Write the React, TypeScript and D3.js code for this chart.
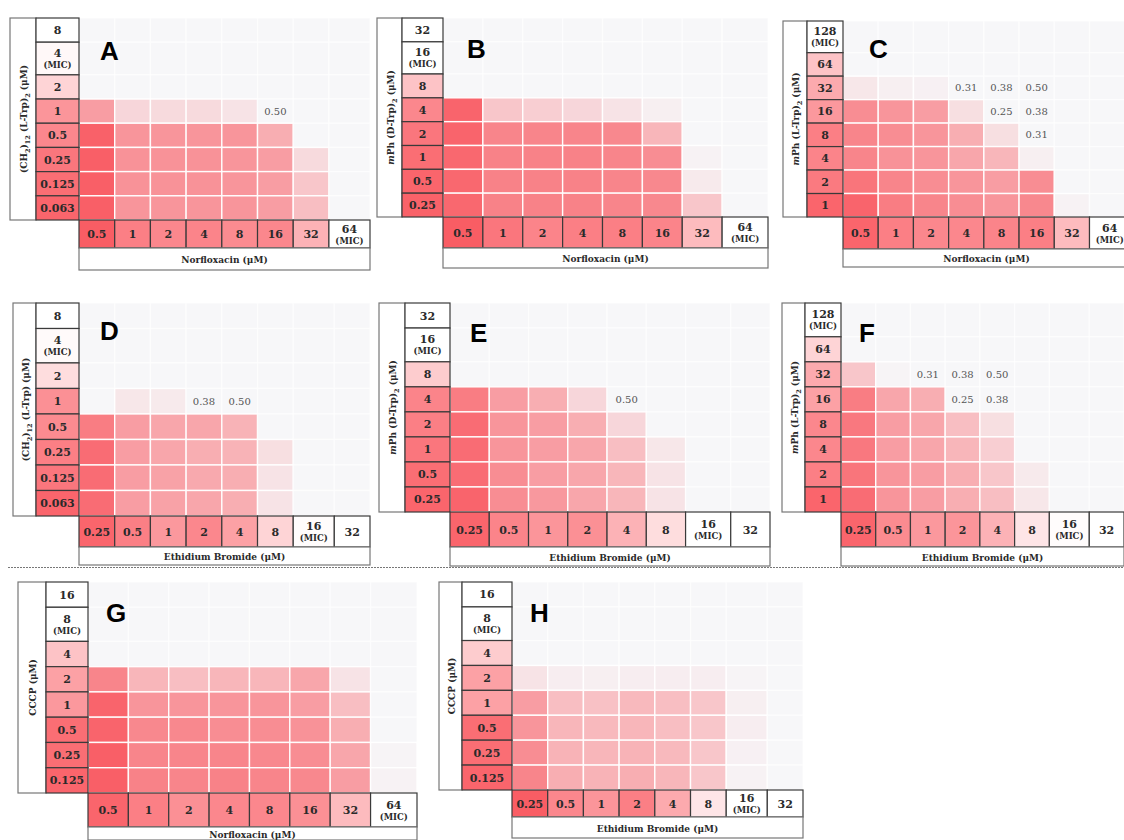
import React from 'react';
import * as d3 from 'd3';

// ---------- data ----------
const norfloxacinCols = ['0.5', '1', '2', '4', '8', '16', '32', '64 (MIC)'];
const ethidiumCols = ['0.25', '0.5', '1', '2', '4', '8', '16 (MIC)', '32'];

const rowsA = ['8', '4 (MIC)', '2', '1', '0.5', '0.25', '0.125', '0.063'];
const rowsB = ['32', '16 (MIC)', '8', '4', '2', '1', '0.5', '0.25'];
const rowsC = ['128 (MIC)', '64', '32', '16', '8', '4', '2', '1'];
const rowsG = ['16', '8 (MIC)', '4', '2', '1', '0.5', '0.25', '0.125'];

const rowShadeA = [0, 0.04, 0.25, 0.62, 0.7, 0.8, 0.85, 0.9];
const colShadeA = [0.95, 0.75, 0.7, 0.72, 0.68, 0.7, 0.45, 0];
const gridA = [
  [0, 0, 0, 0, 0, 0, 0, 0],
  [0, 0, 0, 0, 0, 0, 0, 0],
  [0, 0, 0, 0, 0, 0, 0, 0],
  [0.55, 0.2, 0.18, 0.18, 0.12, 0, 0, 0],
  [0.92, 0.6, 0.6, 0.6, 0.6, 0.45, 0, 0],
  [0.93, 0.62, 0.62, 0.62, 0.6, 0.55, 0.18, 0],
  [0.93, 0.62, 0.62, 0.62, 0.6, 0.55, 0.3, 0],
  [0.93, 0.6, 0.6, 0.6, 0.6, 0.55, 0.35, 0],
];
const notesA = [{ row: '1', col: '16', text: '0.50' }];

const rowShadeB = [0, 0, 0.35, 0.7, 0.8, 0.85, 0.9, 0.92];
const colShadeB = [0.95, 0.8, 0.72, 0.75, 0.75, 0.72, 0.4, 0];
const gridB = [
  [0, 0, 0, 0, 0, 0, 0, 0],
  [0, 0, 0, 0, 0, 0, 0, 0],
  [0, 0, 0, 0, 0, 0, 0, 0],
  [0.9, 0.3, 0.25, 0.2, 0.12, 0.05, 0, 0],
  [0.9, 0.7, 0.7, 0.7, 0.68, 0.4, 0, 0],
  [0.88, 0.72, 0.72, 0.72, 0.7, 0.65, 0.03, 0],
  [0.88, 0.72, 0.72, 0.72, 0.7, 0.68, 0.08, 0],
  [0.88, 0.72, 0.72, 0.72, 0.7, 0.68, 0.3, 0],
];
const notesB: { row: string; col: string; text: string }[] = [];

const rowShadeC = [0, 0.35, 0.5, 0.6, 0.75, 0.72, 0.78, 0.9];
const colShadeC = [0.9, 0.75, 0.7, 0.7, 0.72, 0.75, 0.4, 0];
const gridC = [
  [0, 0, 0, 0, 0, 0, 0, 0],
  [0, 0, 0, 0, 0, 0, 0, 0],
  [0.1, 0.05, 0.04, 0, 0, 0, 0, 0],
  [0.65, 0.6, 0.55, 0.15, 0, 0, 0, 0],
  [0.7, 0.65, 0.6, 0.45, 0.15, 0, 0, 0],
  [0.7, 0.62, 0.6, 0.5, 0.4, 0.05, 0, 0],
  [0.8, 0.7, 0.65, 0.6, 0.55, 0.65, 0, 0],
  [0.9, 0.75, 0.7, 0.65, 0.6, 0.68, 0.03, 0],
];
const notesC = [
  { row: '32', col: '4', text: '0.31' },
  { row: '32', col: '8', text: '0.38' },
  { row: '32', col: '16', text: '0.50' },
  { row: '16', col: '8', text: '0.25' },
  { row: '16', col: '16', text: '0.38' },
  { row: '8', col: '16', text: '0.31' },
];

const rowShadeD = [0, 0.03, 0.2, 0.65, 0.68, 0.75, 0.8, 0.9];
const colShadeD = [0.9, 0.75, 0.6, 0.7, 0.55, 0.25, 0.02, 0];
const gridD = [
  [0, 0, 0, 0, 0, 0, 0, 0],
  [0, 0, 0, 0, 0, 0, 0, 0],
  [0, 0, 0, 0, 0, 0, 0, 0],
  [0, 0.1, 0.08, 0, 0, 0, 0, 0],
  [0.75, 0.55, 0.5, 0.5, 0.42, 0, 0, 0],
  [0.85, 0.55, 0.5, 0.45, 0.42, 0.15, 0, 0],
  [0.85, 0.55, 0.52, 0.48, 0.45, 0.12, 0, 0],
  [0.85, 0.55, 0.52, 0.5, 0.45, 0.12, 0, 0],
];
const notesD = [
  { row: '1', col: '2', text: '0.38' },
  { row: '1', col: '4', text: '0.50' },
];

const rowShadeE = [0, 0, 0.3, 0.72, 0.75, 0.8, 0.85, 0.9];
const colShadeE = [0.9, 0.72, 0.62, 0.65, 0.45, 0.2, 0, 0];
const gridE = [
  [0, 0, 0, 0, 0, 0, 0, 0],
  [0, 0, 0, 0, 0, 0, 0, 0],
  [0, 0, 0, 0, 0, 0, 0, 0],
  [0.75, 0.55, 0.45, 0.2, 0, 0, 0, 0],
  [0.85, 0.6, 0.55, 0.45, 0.2, 0, 0, 0],
  [0.85, 0.6, 0.55, 0.5, 0.35, 0.1, 0, 0],
  [0.85, 0.65, 0.55, 0.5, 0.4, 0.12, 0, 0],
  [0.9, 0.65, 0.58, 0.5, 0.4, 0.12, 0, 0],
];
const notesE = [{ row: '4', col: '4', text: '0.50' }];

const rowShadeF = [0, 0.25, 0.5, 0.55, 0.7, 0.7, 0.75, 0.9];
const colShadeF = [0.9, 0.68, 0.6, 0.62, 0.45, 0.15, 0.02, 0];
const gridF = [
  [0, 0, 0, 0, 0, 0, 0, 0],
  [0, 0, 0, 0, 0, 0, 0, 0],
  [0.3, 0.02, 0, 0, 0, 0, 0, 0],
  [0.75, 0.5, 0.45, 0, 0, 0, 0, 0],
  [0.78, 0.55, 0.5, 0.35, 0.15, 0, 0, 0],
  [0.78, 0.55, 0.5, 0.4, 0.25, 0, 0, 0],
  [0.8, 0.6, 0.55, 0.45, 0.3, 0.08, 0, 0],
  [0.85, 0.6, 0.55, 0.45, 0.35, 0.1, 0, 0],
];
const notesF = [
  { row: '32', col: '1', text: '0.31' },
  { row: '32', col: '2', text: '0.38' },
  { row: '32', col: '4', text: '0.50' },
  { row: '16', col: '2', text: '0.25' },
  { row: '16', col: '4', text: '0.38' },
];

const rowShadeG = [0, 0, 0.35, 0.55, 0.6, 0.85, 0.85, 0.9];
const colShadeG = [0.9, 0.75, 0.65, 0.7, 0.7, 0.65, 0.4, 0];
const gridG = [
  [0, 0, 0, 0, 0, 0, 0, 0],
  [0, 0, 0, 0, 0, 0, 0, 0],
  [0, 0, 0, 0, 0, 0, 0, 0],
  [0.7, 0.4, 0.35, 0.4, 0.4, 0.5, 0.12, 0],
  [0.9, 0.6, 0.6, 0.6, 0.6, 0.55, 0.35, 0],
  [0.9, 0.68, 0.68, 0.65, 0.65, 0.62, 0.45, 0],
  [0.93, 0.7, 0.7, 0.7, 0.68, 0.65, 0.5, 0.02],
  [0.93, 0.72, 0.7, 0.72, 0.7, 0.68, 0.55, 0.03],
];
const notesG: { row: string; col: string; text: string }[] = [];

const rowShadeH = [0, 0, 0.3, 0.55, 0.55, 0.85, 0.85, 0.9];
const colShadeH = [0.95, 0.7, 0.62, 0.75, 0.5, 0.15, 0, 0];
const gridH = [
  [0, 0, 0, 0, 0, 0, 0, 0],
  [0, 0, 0, 0, 0, 0, 0, 0],
  [0, 0, 0, 0, 0, 0, 0, 0],
  [0.12, 0.06, 0.05, 0.06, 0.06, 0.06, 0.02, 0],
  [0.55, 0.35, 0.33, 0.38, 0.35, 0.3, 0.05, 0],
  [0.6, 0.4, 0.38, 0.4, 0.35, 0.3, 0.06, 0],
  [0.65, 0.42, 0.4, 0.42, 0.38, 0.3, 0.04, 0],
  [0.7, 0.45, 0.42, 0.45, 0.4, 0.3, 0.03, 0],
];
const notesH: { row: string; col: string; text: string }[] = [];

type Seg = { t: string; sub?: boolean; it?: boolean };
const yTitleCH2Trp2: Seg[] = [{ t: '(CH' }, { t: '2', sub: true }, { t: ')' }, { t: '12', sub: true }, { t: ' (L-Trp)' }, { t: '2', sub: true }, { t: ' (μM)' }];
const yTitleCH2Trp: Seg[] = [{ t: '(CH' }, { t: '2', sub: true }, { t: ')' }, { t: '12', sub: true }, { t: ' (L-Trp) (μM)' }];
const yTitleMPhD: Seg[] = [{ t: 'm', it: true }, { t: 'Ph (D-Trp)' }, { t: '2', sub: true }, { t: ' (μM)' }];
const yTitleMPhL: Seg[] = [{ t: 'm', it: true }, { t: 'Ph (L-Trp)' }, { t: '2', sub: true }, { t: ' (μM)' }];
const yTitleCCCP: Seg[] = [{ t: 'CCCP (μM)' }];

const xTitleNor = 'Norfloxacin (μM)';
const xTitleEtBr = 'Ethidium Bromide (μM)';

const panels = [
  { id: 'A', rows: rowsA, cols: norfloxacinCols, rowShade: rowShadeA, colShade: colShadeA, grid: gridA, notes: notesA, yTitle: yTitleCH2Trp2, xTitle: xTitleNor },
  { id: 'B', rows: rowsB, cols: norfloxacinCols, rowShade: rowShadeB, colShade: colShadeB, grid: gridB, notes: notesB, yTitle: yTitleMPhD, xTitle: xTitleNor },
  { id: 'C', rows: rowsC, cols: norfloxacinCols, rowShade: rowShadeC, colShade: colShadeC, grid: gridC, notes: notesC, yTitle: yTitleMPhL, xTitle: xTitleNor },
  { id: 'D', rows: rowsA, cols: ethidiumCols, rowShade: rowShadeD, colShade: colShadeD, grid: gridD, notes: notesD, yTitle: yTitleCH2Trp, xTitle: xTitleEtBr },
  { id: 'E', rows: rowsB, cols: ethidiumCols, rowShade: rowShadeE, colShade: colShadeE, grid: gridE, notes: notesE, yTitle: yTitleMPhD, xTitle: xTitleEtBr },
  { id: 'F', rows: rowsC, cols: ethidiumCols, rowShade: rowShadeF, colShade: colShadeF, grid: gridF, notes: notesF, yTitle: yTitleMPhL, xTitle: xTitleEtBr },
  { id: 'G', rows: rowsG, cols: norfloxacinCols, rowShade: rowShadeG, colShade: colShadeG, grid: gridG, notes: notesG, yTitle: yTitleCCCP, xTitle: xTitleNor },
  { id: 'H', rows: rowsG, cols: ethidiumCols, rowShade: rowShadeH, colShade: colShadeH, grid: gridH, notes: notesH, yTitle: yTitleCCCP, xTitle: xTitleEtBr },
];

// ---------- layout ----------
const LAYOUT: Record<string, any> = {
  A: { x0: 10, hx: 36, gx: 79, gr: 370, top: 18, gb: 220, cb: 248, xb: 270, lx: 100, ly: 60 },
  B: { x0: 377, hx: 402, gx: 443, gr: 768, top: 18, gb: 217, cb: 248, xb: 268, lx: 467, ly: 58 },
  C: { x0: 783, hx: 807, gx: 843, gr: 1130, top: 21, gb: 217, cb: 249, xb: 267, lx: 869, ly: 58 },
  D: { x0: 13, hx: 36, gx: 79, gr: 370, top: 303, gb: 516, cb: 547, xb: 565, lx: 100, ly: 340 },
  E: { x0: 379, hx: 405, gx: 450, gr: 770, top: 303, gb: 512, cb: 547, xb: 566, lx: 470, ly: 342 },
  F: { x0: 782, hx: 805, gx: 841, gr: 1124, top: 303, gb: 512, cb: 547, xb: 566, lx: 859, ly: 342 },
  G: { x0: 18, hx: 46, gx: 88, gr: 417, top: 582, gb: 793, cb: 827, xb: 840, lx: 106, ly: 622 },
  H: { x0: 439, hx: 462, gx: 512, gr: 803, top: 582, gb: 790, cb: 817, xb: 838, lx: 530, ly: 622 },
};

const BG = '#f7f7f9';
const RED = '#f9545c';
const cellColor = d3.scaleLinear<string>().domain([0, 1]).range([BG, RED]).interpolate(d3.interpolateRgb);
const headColor = d3.scaleLinear<string>().domain([0, 1]).range(['#ffffff', RED]).interpolate(d3.interpolateRgb);

const SERIF = "'DejaVu Serif', Georgia, serif";
const HDR_STROKE = '#3a3a3a';

function HeaderLabel({ label, cx, cy }: { label: string; cx: number; cy: number }) {
  const isMic = label.includes('(MIC)');
  const num = label.replace(' (MIC)', '');
  if (!isMic) {
    return (
      <text x={cx} y={cy + 0.5} textAnchor="middle" dominantBaseline="central" fontFamily={SERIF} fontWeight="bold" fontSize={11} fill="#2a2a2a">
        {num}
      </text>
    );
  }
  return (
    <g>
      <text x={cx} y={cy - 5} textAnchor="middle" dominantBaseline="central" fontFamily={SERIF} fontWeight="bold" fontSize={11} fill="#2a2a2a">
        {num}
      </text>
      <text x={cx} y={cy + 6.5} textAnchor="middle" dominantBaseline="central" fontFamily={SERIF} fontWeight="bold" fontSize={8.5} fill="#2a2a2a">
        (MIC)
      </text>
    </g>
  );
}

function Panel({ p }: { p: (typeof panels)[number] }) {
  const L = LAYOUT[p.id];
  const rowW = p.rows.map((r) => (r.includes('MIC') ? 1.35 : 1));
  const colW = p.cols.map((c) => (c.includes('MIC') ? 1.15 : 1));
  const rowCum = [0, ...Array.from(d3.cumsum(rowW))];
  const colCum = [0, ...Array.from(d3.cumsum(colW))];
  const y = d3.scaleLinear().domain([0, d3.sum(rowW)]).range([L.top, L.gb]);
  const x = d3.scaleLinear().domain([0, d3.sum(colW)]).range([L.gx, L.gr]);
  const rY = (i: number) => y(rowCum[i]);
  const rH = (i: number) => y(rowCum[i + 1]) - y(rowCum[i]);
  const cX = (j: number) => x(colCum[j]);
  const cW = (j: number) => x(colCum[j + 1]) - x(colCum[j]);

  return (
    <g>
      <rect x={L.gx} y={L.top} width={L.gr - L.gx} height={L.gb - L.top} fill={BG} />
      {p.grid.map((row, i) =>
        row.map((v, j) => (
          <rect key={`c${i}-${j}`} x={cX(j)} y={rY(i)} width={cW(j)} height={rH(i)} fill={cellColor(v)} stroke="#ffffff" strokeWidth={1.4} strokeOpacity={v > 0 ? 0.95 : 0.6} />
        ))
      )}
      {p.notes.map((n, k) => {
        const i = p.rows.indexOf(n.row);
        const j = p.cols.indexOf(n.col);
        return (
          <text key={`n${k}`} x={cX(j) + cW(j) / 2} y={rY(i) + rH(i) / 2} textAnchor="middle" dominantBaseline="central" fontFamily={SERIF} fontSize={10} fill="#555">
            {n.text}
          </text>
        );
      })}
      <rect x={L.x0} y={L.top} width={L.hx - L.x0} height={L.gb - L.top} fill="#fff" stroke="#777" strokeWidth={1.2} />
      <text
        transform={`translate(${(L.x0 + L.hx) / 2 + 1},${(L.top + L.gb) / 2}) rotate(-90)`}
        textAnchor="middle"
        dominantBaseline="central"
        fontFamily={SERIF}
        fontWeight="bold"
        fontSize={9}
        fill="#2a2a2a"
      >
        {p.yTitle.map((s, k) => (
          <tspan key={k} fontSize={s.sub ? 6.5 : 9} baselineShift={s.sub ? 'sub' : undefined} fontStyle={s.it ? 'italic' : undefined}>
            {s.t}
          </tspan>
        ))}
      </text>
      {p.rows.map((r, i) => (
        <g key={`r${i}`}>
          <rect x={L.hx} y={rY(i)} width={L.gx - L.hx} height={rH(i)} fill={headColor(p.rowShade[i])} stroke={HDR_STROKE} strokeWidth={1.2} />
          <HeaderLabel label={r} cx={(L.hx + L.gx) / 2} cy={rY(i) + rH(i) / 2} />
        </g>
      ))}
      {p.cols.map((c, j) => (
        <g key={`h${j}`}>
          <rect x={cX(j)} y={L.gb} width={cW(j)} height={L.cb - L.gb} fill={headColor(p.colShade[j])} stroke={HDR_STROKE} strokeWidth={1.2} />
          <HeaderLabel label={c} cx={cX(j) + cW(j) / 2} cy={(L.gb + L.cb) / 2} />
        </g>
      ))}
      <rect x={L.gx} y={L.cb} width={L.gr - L.gx} height={L.xb - L.cb} fill="#fff" stroke="#777" strokeWidth={1.2} />
      <text x={(L.gx + L.gr) / 2} y={(L.cb + L.xb) / 2 + 1} textAnchor="middle" dominantBaseline="central" fontFamily={SERIF} fontWeight="bold" fontSize={9} fill="#2a2a2a">
        {p.xTitle}
      </text>
      <text x={L.lx} y={L.ly} fontFamily="'Liberation Sans', Arial, sans-serif" fontWeight="bold" fontSize={26} fill="#000">
        {p.id}
      </text>
    </g>
  );
}

export default function App() {
  return (
    <svg width={1124} height={840} style={{ position: 'absolute', left: 0, top: 0, display: 'block' }} xmlns="http://www.w3.org/2000/svg">
      <rect x={0} y={0} width={1124} height={840} fill="#fff" />
      {panels.map((p) => (
        <Panel key={p.id} p={p} />
      ))}
      <line x1={8} x2={1124} y1={567.5} y2={567.5} stroke="#777" strokeWidth={1} strokeDasharray="2,1" />
    </svg>
  );
}
